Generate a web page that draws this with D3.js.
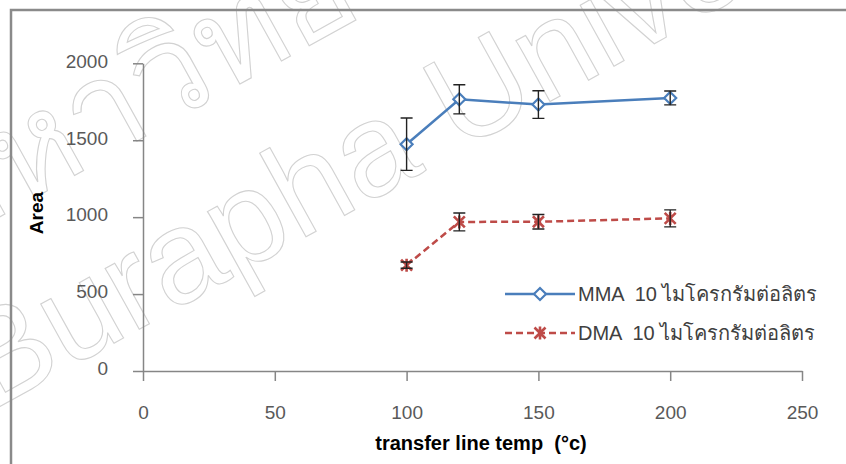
<!DOCTYPE html>
<html>
<head>
<meta charset="utf-8">
<script src="https://cdn.jsdelivr.net/npm/d3@7"></script>
<style>
  body { margin: 0; background: #fff; }
  text { font-family: "Liberation Sans", Arial, "Noto Sans", sans-serif; }
</style>
</head>
<body>
<div id="chart"></div>
<script>
// datos
const temps = [100, 120, 150, 200];
const mmaArea = [1474, 1766, 1732, 1775];
const mmaErr = [170, 95, 90, 45];
const dmaArea = [688, 969, 970, 992];
const dmaErr = [20, 58, 47, 55];
const xTicks = [0, 50, 100, 150, 200, 250];
const yTicks = [0, 500, 1000, 1500, 2000];
const seriesNames = ["MMA  10 ไมโครกรัมต่อลิตร", "DMA  10 ไมโครกรัมต่อลิตร"];

const width = 846, height = 464;

const svg = d3.select("#chart").append("svg")
    .attr("width", width)
    .attr("height", height);

// marca de agua
const wm = svg.append("g")
    .attr("fill", "none")
    .attr("stroke", "#d2d2d2")
    .attr("stroke-width", 1.1);
wm.append("text")
    .attr("transform", "translate(-10,412) rotate(-29)")
    .attr("font-size", 132)
    .text("Burapha University");
wm.append("text")
    .attr("transform", "translate(-60,250) rotate(-29)")
    .attr("font-size", 132)
    .text("มหาวิทยาลัยบูรพา");

// marco exterior
svg.append("rect")
    .attr("x", 11).attr("y", 10)
    .attr("width", 900).attr("height", 500)
    .attr("fill", "none")
    .attr("stroke", "#8a8a8a")
    .attr("stroke-width", 2.5);

const x = d3.scaleLinear().domain([0, 250]).range([143, 802]);
const y = d3.scaleLinear().domain([0, 2000]).range([371, 63.3]);

// ejes
const xAxis = svg.append("g")
    .attr("transform", "translate(0," + y(0) + ")")
    .call(d3.axisBottom(x).tickValues(xTicks).tickFormat(d3.format("d"))
        .tickSize(10).tickSizeOuter(0).tickPadding(25));
const yAxis = svg.append("g")
    .attr("transform", "translate(" + x(0) + ",0)")
    .call(d3.axisLeft(y).tickValues(yTicks).tickFormat(d3.format("d"))
        .tickSize(10).tickSizeOuter(0).tickPadding(25));

[xAxis, yAxis].forEach(function(a) {
    a.select(".domain").attr("stroke", "#868686").attr("stroke-width", 1.5);
    a.selectAll(".tick line").attr("stroke", "#868686").attr("stroke-width", 1.5);
    a.selectAll(".tick text")
        .attr("fill", "#595959")
        .attr("font-size", 19)
        .style("font-family", "'Liberation Sans', Arial, sans-serif");
});
yAxis.selectAll(".tick text").attr("dy", "0.2em");

// titulos
svg.append("text")
    .attr("transform", "translate(43,213) rotate(-90)")
    .attr("text-anchor", "middle")
    .attr("font-size", 19)
    .attr("font-weight", "bold")
    .attr("fill", "#000")
    .text("Area");
svg.append("text")
    .attr("x", 481).attr("y", 450)
    .attr("text-anchor", "middle")
    .attr("font-size", 20)
    .attr("font-weight", "bold")
    .attr("fill", "#000")
    .style("white-space", "pre")
    .text("transfer line temp  (°c)");

const blue = "#4a7ebb", red = "#be4b48";

const line = d3.line()
    .x(d => x(d[0]))
    .y(d => y(d[1]));

const mmaPts = temps.map((t, i) => [t, mmaArea[i], mmaErr[i]]);
const dmaPts = temps.map((t, i) => [t, dmaArea[i], dmaErr[i]]);

svg.append("path")
    .datum(mmaPts)
    .attr("d", line)
    .attr("fill", "none")
    .attr("stroke", blue)
    .attr("stroke-width", 2.5);

svg.append("path")
    .datum(dmaPts)
    .attr("d", line)
    .attr("fill", "none")
    .attr("stroke", red)
    .attr("stroke-width", 2.5)
    .attr("stroke-dasharray", "7,4");

function diamond(g, cx, cy) {
    g.append("path")
        .attr("d", "M" + cx + "," + (cy - 6) + "L" + (cx + 6) + "," + cy + "L" + cx + "," + (cy + 6) + "L" + (cx - 6) + "," + cy + "Z")
        .attr("fill", "#fff")
        .attr("stroke", blue)
        .attr("stroke-width", 2.2);
}
function star(g, cx, cy) {
    const s = 5.5;
    g.append("path")
        .attr("d", "M" + (cx - s) + "," + (cy - s) + "L" + (cx + s) + "," + (cy + s) +
            "M" + (cx - s) + "," + (cy + s) + "L" + (cx + s) + "," + (cy - s) +
            "M" + cx + "," + (cy - s - 1) + "L" + cx + "," + (cy + s + 1))
        .attr("fill", "none")
        .attr("stroke", red)
        .attr("stroke-width", 2.6);
}

const marks = svg.append("g");
mmaPts.forEach(d => diamond(marks, x(d[0]), y(d[1])));
dmaPts.forEach(d => star(marks, x(d[0]), y(d[1])));

// barras de error
const err = svg.append("g")
    .attr("stroke", "#222")
    .attr("stroke-width", 1.4)
    .attr("fill", "none");
mmaPts.concat(dmaPts).forEach(function(d) {
    const cx = x(d[0]), y0 = y(d[1] - d[2]), y1 = y(d[1] + d[2]);
    err.append("path")
        .attr("d", "M" + cx + "," + y0 + "V" + y1 +
            "M" + (cx - 6) + "," + y0 + "H" + (cx + 6) +
            "M" + (cx - 6) + "," + y1 + "H" + (cx + 6));
});

// leyenda
const leg = svg.append("g");
leg.append("line")
    .attr("x1", 505).attr("x2", 575).attr("y1", 294).attr("y2", 294)
    .attr("stroke", blue).attr("stroke-width", 2.5);
diamond(leg, 540, 294);
leg.append("line")
    .attr("x1", 505).attr("x2", 575).attr("y1", 333).attr("y2", 333)
    .attr("stroke", red).attr("stroke-width", 2.5)
    .attr("stroke-dasharray", "7,4");
star(leg, 540, 333);
leg.selectAll("text.lab")
    .data(seriesNames)
    .enter().append("text")
    .attr("class", "lab")
    .attr("x", 578)
    .attr("y", (d, i) => 294 + i * 39)
    .attr("dy", "0.36em")
    .attr("font-size", 20)
    .attr("fill", "#404040")
    .style("white-space", "pre")
    .text(d => d);
</script>
</body>
</html>
